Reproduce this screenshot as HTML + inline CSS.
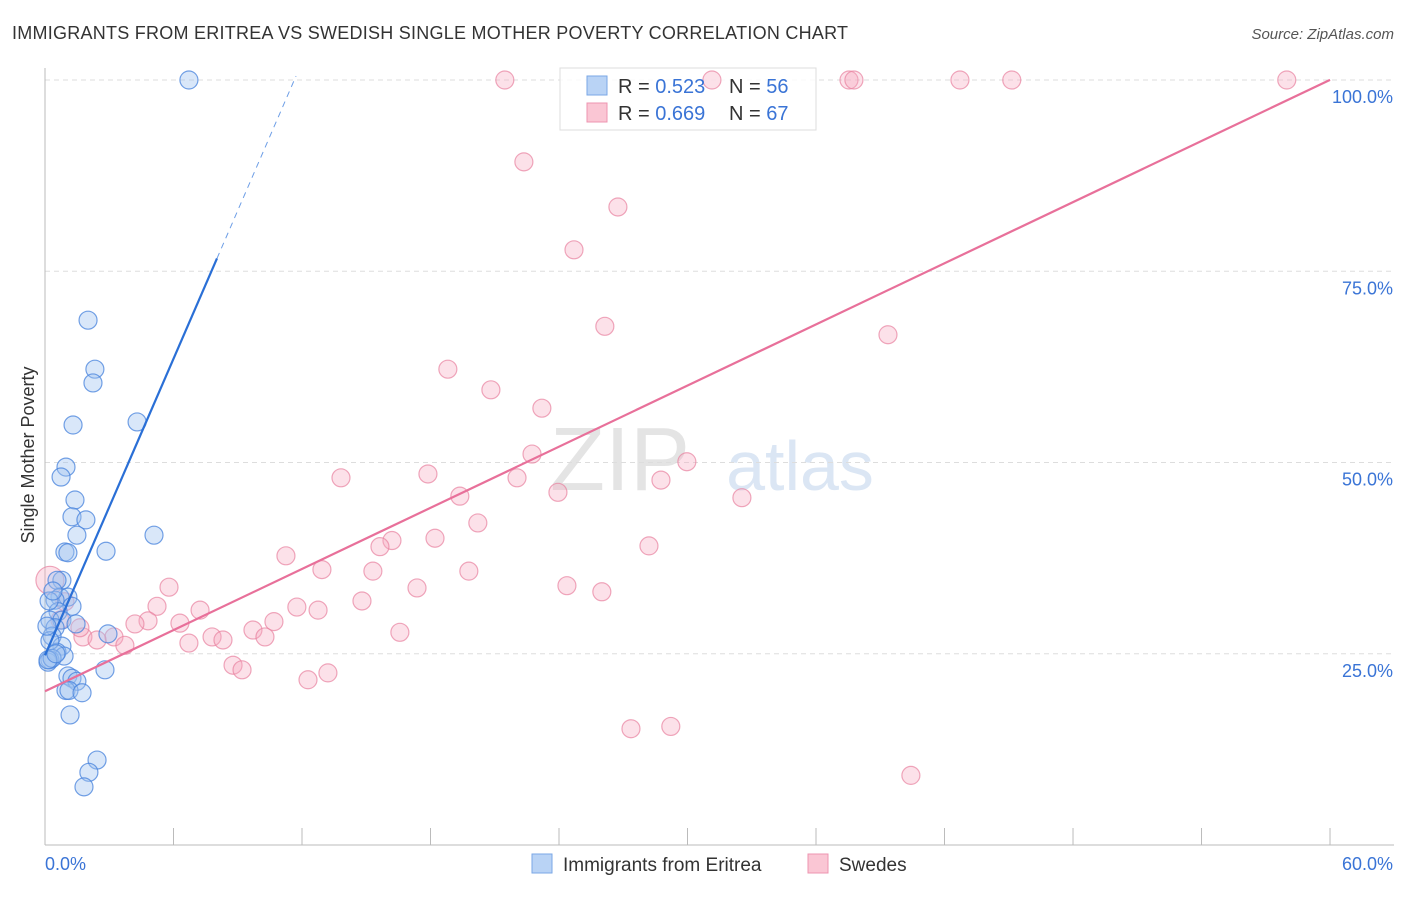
<!DOCTYPE html>
<html><head><meta charset="utf-8"><style>
body{margin:0;background:#fff;font-family:"Liberation Sans",sans-serif;}
svg text{font-family:"Liberation Sans",sans-serif;}
</style></head><body>
<svg id="chart" width="1406" height="892">
<text x="12" y="39" font-size="18" fill="#333" letter-spacing="0.25">IMMIGRANTS FROM ERITREA VS SWEDISH SINGLE MOTHER POVERTY CORRELATION CHART</text>
<text x="1394" y="39" font-size="15" fill="#555" font-style="italic" text-anchor="end">Source: ZipAtlas.com</text>
<text x="620" y="490" font-size="90" fill="#e4e4e4" font-family="Liberation Serif" text-anchor="middle">ZIP</text>
<text x="800" y="490" font-size="70" fill="#dbe6f4" text-anchor="middle">atlas</text>
<g id="grid"></g><g id="axes"></g>
<g>
<rect x="560" y="68" width="256" height="62" fill="rgba(255,255,255,0.85)" stroke="#ddd"/>
</g>
<g id="pink"></g><g id="blue"></g><g id="lines"></g>
<text x="34" y="455" font-size="18" fill="#333" text-anchor="middle" transform="rotate(-90 34 455)">Single Mother Poverty</text>
<g>
<rect x="587" y="76" width="20" height="19" fill="#b9d3f5" stroke="#7aa7e6"/>
<rect x="587" y="103" width="20" height="19" fill="#fac6d4" stroke="#ee94b0"/>
<text x="618" y="93" font-size="20" fill="#333">R = <tspan fill="#3a74d6">0.523</tspan></text>
<text x="729" y="93" font-size="20" fill="#333">N = <tspan fill="#3a74d6">56</tspan></text>
<text x="618" y="120" font-size="20" fill="#333">R = <tspan fill="#3a74d6">0.669</tspan></text>
<text x="729" y="120" font-size="20" fill="#333">N = <tspan fill="#3a74d6">67</tspan></text>
</g>
<g>
<rect x="532" y="854" width="20" height="19" fill="#b9d3f5" stroke="#7aa7e6"/>
<text x="563" y="871" font-size="19" fill="#333">Immigrants from Eritrea</text>
<rect x="808" y="854" width="20" height="19" fill="#fac6d4" stroke="#ee94b0"/>
<text x="839" y="871" font-size="19" fill="#333">Swedes</text>
</g>
</svg>
<script>
const blueX=[6.72,2.01,2.33,2.24,4.30,1.31,0.98,0.75,1.40,1.26,1.91,1.49,5.09,0.93,1.07,2.85,0.79,0.56,0.70,1.07,0.47,1.26,0.61,0.23,0.79,1.45,0.47,2.94,0.33,0.79,0.56,0.89,0.23,0.14,0.33,2.80,1.07,1.26,1.49,0.98,1.12,1.73,1.17,2.43,2.05,1.82,0.23,0.09,0.19,0.37,0.14,0.51];
const blueY=[100,68.6,62.2,60.4,55.3,54.9,49.4,48.1,45.1,42.9,42.5,40.5,40.5,38.3,38.2,38.4,34.6,34.6,32.4,32.4,32.0,31.2,30.5,29.4,29.4,28.9,28.4,27.6,27.3,26.0,25.2,24.7,24.2,23.9,24.4,22.9,22.1,21.8,21.4,20.2,20.2,19.9,17.0,11.1,9.5,7.6,26.7,28.6,31.9,33.2,24.2,25.0];
const pinkX=[21.47,31.14,37.54,37.77,42.72,45.14,57.98,22.36,26.75,24.70,26.14,39.36,18.81,20.82,23.20,22.74,29.97,13.82,17.88,22.04,28.76,19.37,23.95,32.54,20.21,16.20,18.21,15.64,28.20,11.25,12.93,15.31,19.79,5.79,24.37,17.37,26.00,14.80,5.23,11.76,12.75,7.24,4.81,4.20,6.30,10.69,9.71,16.57,7.80,8.31,10.27,3.22,1.77,2.43,3.73,6.72,8.78,9.20,13.21,12.28,27.36,29.22,40.43,0.23,0.93,0.70,1.63];
const pinkY=[100,100,100,100,100,100,100,89.3,83.4,77.8,67.8,66.7,62.2,59.5,57.1,51.1,50.1,48.0,48.5,48.0,47.7,45.6,46.1,45.4,42.1,39.8,40.1,39.0,39.1,37.8,36.0,35.8,35.8,33.7,33.9,33.6,33.1,31.9,31.2,31.1,30.7,30.7,29.3,28.9,29.0,29.2,28.1,27.8,27.2,26.8,27.2,27.2,27.2,26.8,26.1,26.4,23.5,22.9,22.5,21.6,15.2,15.5,9.1,34.6,31.8,29.4,28.4];
const yTicks=[25,50,75,100];
const yTickLabels=["25.0%","50.0%","75.0%","100.0%"];
const blueTrend=[24.8,6.46,8.03,11.72];
const pinkTrend=[20.1,1.332];
const NS="http://www.w3.org/2000/svg";
const sx=v=>45+v*21.417, sy=v=>845-v*7.65;
function mk(tag,attrs,parent){const e=document.createElementNS(NS,tag);for(const k in attrs)e.setAttribute(k,attrs[k]);document.getElementById(parent).appendChild(e);return e;}
yTicks.forEach((t,i)=>{
 const l=mk('line',{x1:45,x2:1394,y1:sy(t),y2:sy(t),stroke:'#ddd','stroke-dasharray':'5,4'},'grid');
 
 
 const tx=mk('text',{x:1393,y:sy(t)+23,'font-size':18,fill:'#3a74d6','text-anchor':'end'},'axes');
 tx.textContent=yTickLabels[i];
 
 
});
let a=mk('line',{x1:45,x2:45,y1:68,y2:845,stroke:'#bbb'},'axes');


a=mk('line',{x1:45,x2:1394,y1:845,y2:845,stroke:'#bbb'},'axes');


for(let i=0;i<=10;i++){const t=mk('line',{x1:sx(i*6),x2:sx(i*6),y1:828,y2:845,stroke:'#bbb'},'axes');
 
 }
let xl=mk('text',{x:45,y:870,'font-size':18,fill:'#3a74d6'},'axes');xl.textContent='0.0%';


xl=mk('text',{x:1393,y:870,'font-size':18,fill:'#3a74d6','text-anchor':'end'},'axes');xl.textContent='60.0%';


pinkX.forEach((x,i)=>{const c=mk('circle',{cx:sx(x),cy:sy(pinkY[i]),r:i==63?14:9,fill:'rgba(246,170,192,0.35)',stroke:'rgba(232,130,160,0.7)','stroke-width':1.2},'pink');
 
 });
blueX.forEach((x,i)=>{const c=mk('circle',{cx:sx(x),cy:sy(blueY[i]),r:9,fill:'rgba(160,196,240,0.4)',stroke:'rgba(70,130,220,0.75)','stroke-width':1.2},'blue');
 
 });
let ln=mk('line',{x1:sx(0),y1:sy(blueTrend[0]),x2:sx(blueTrend[2]),y2:sy(blueTrend[0]+blueTrend[1]*blueTrend[2]),stroke:'#2a6fd6','stroke-width':2.2},'lines');


ln=mk('line',{x1:sx(blueTrend[2]),y1:sy(blueTrend[0]+blueTrend[1]*blueTrend[2]),x2:sx(blueTrend[3]),y2:sy(blueTrend[0]+blueTrend[1]*blueTrend[3]),stroke:'#6d9ee6','stroke-width':1,'stroke-dasharray':'6,5'},'lines');


ln=mk('line',{x1:sx(0),y1:sy(pinkTrend[0]),x2:sx(60),y2:sy(pinkTrend[0]+pinkTrend[1]*60),stroke:'#e8709a','stroke-width':2.2},'lines');


</script>
</body></html>
